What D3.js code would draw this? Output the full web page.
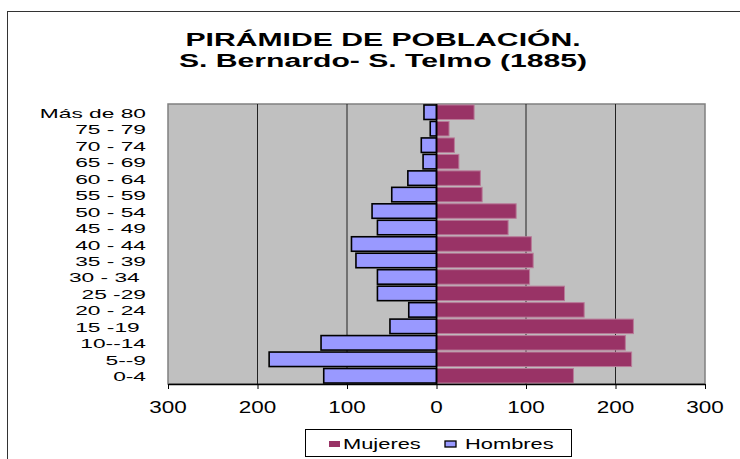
<!DOCTYPE html>
<meta charset="utf-8">
<title>Pirámide de población</title>
<style>

body {
  margin: 0;
  background: #fff;
}

text {
  font-family: "Liberation Sans", Arial, sans-serif;
  fill: #000;
  white-space: pre;
}
</style>
<body>
<script src="https://cdn.jsdelivr.net/npm/d3@7"></script>
<script>

var categories = ["0-4", "5--9", "10--14", "15 -19 ", "20 - 24", "25 -29", "30 - 34 ",
                  "35 - 39", "40 - 44", "45 - 49", "50 - 54", "55 - 59", "60 - 64",
                  "65 - 69", "70 - 74", "75 - 79", "Más de 80"];

var hombres = [126, 187, 129, 52, 31, 66, 66, 90, 95, 66, 72, 50, 32, 15, 17, 7, 14];
var mujeres = [153, 218, 211, 220, 165, 143, 104, 108, 106, 80, 89, 51, 49, 25, 20, 14, 42];

var ticks = [-300, -200, -100, 0, 100, 200, 300];
var title = ["PIRÁMIDE DE POBLACIÓN.", "S. Bernardo- S. Telmo (1885)"];
var series = ["Mujeres", "Hombres"];

var w = 740,
    h = 459,
    pLeft = 168,
    pRight = 705,
    pTop = 104,
    pBottom = 384;

var x = d3.scaleLinear().domain([-300, 300]).range([pLeft, pRight]);

var y = d3.scaleBand()
    .domain(categories.slice().reverse())
    .range([pTop, pBottom])
    .paddingInner(0.12)
    .paddingOuter(0.06);

var svg = d3.select("body").append("svg")
    .attr("width", w)
    .attr("height", h);

// outer frame
svg.append("rect")
    .attr("x", 7.5)
    .attr("y", 11.5)
    .attr("width", 800)
    .attr("height", 500)
    .style("fill", "none")
    .style("stroke", "#333");

// stretched text helper, the original is wide
function stretched(sel, sx) {
  return sel.attr("transform", function(d, i) {
    return "translate(" + this.getAttribute("data-x") + "," + this.getAttribute("data-y") + ") scale(" + sx + ",1)";
  });
}

svg.selectAll(".title")
    .data(title)
  .enter().append("text")
    .attr("class", "title")
    .attr("data-x", 383)
    .attr("data-y", function(d, i) { return 46 + i * 21; })
    .attr("text-anchor", "middle")
    .style("font-weight", "bold")
    .style("font-size", "18.5px")
    .text(function(d) { return d; })
    .call(stretched, 1.63);

// plot area
svg.append("rect")
    .attr("x", pLeft)
    .attr("y", pTop)
    .attr("width", pRight - pLeft)
    .attr("height", pBottom - pTop)
    .style("fill", "#c0c0c0")
    .style("stroke", "#808080")
    .style("stroke-width", 1.5);

svg.selectAll(".grid")
    .data(ticks.filter(function(d) { return d != 0 && Math.abs(d) != 300; }))
  .enter().append("line")
    .attr("class", "grid")
    .attr("x1", function(d) { return x(d); })
    .attr("x2", function(d) { return x(d); })
    .attr("y1", pTop)
    .attr("y2", pBottom)
    .style("stroke", "#222")
    .style("stroke-width", 1);

svg.selectAll(".muj")
    .data(mujeres)
  .enter().append("rect")
    .attr("class", "muj")
    .attr("x", x(0))
    .attr("y", function(d, i) { return y(categories[i]); })
    .attr("width", function(d) { return x(d) - x(0); })
    .attr("height", y.bandwidth())
    .style("fill", "#993366")
    .style("stroke", "#b87a98")
    .style("stroke-width", 1);

svg.selectAll(".hom")
    .data(hombres)
  .enter().append("rect")
    .attr("class", "hom")
    .attr("x", function(d) { return x(-d); })
    .attr("y", function(d, i) { return y(categories[i]); })
    .attr("width", function(d) { return x(0) - x(-d); })
    .attr("height", y.bandwidth())
    .style("fill", "#9999ff")
    .style("stroke", "#000")
    .style("stroke-width", 1.6);

// axis at zero
svg.append("line")
    .attr("x1", x(0))
    .attr("x2", x(0))
    .attr("y1", pTop)
    .attr("y2", pBottom)
    .style("stroke", "#000")
    .style("stroke-width", 1.5);

// x axis
var xAxis = svg.append("g")
    .attr("transform", "translate(0," + pBottom + ")")
    .call(d3.axisBottom(x).tickValues(ticks).tickSize(5).tickSizeOuter(0));

xAxis.select(".domain").style("stroke", "#000").style("stroke-width", 1.5);
xAxis.selectAll(".tick line").style("stroke", "#000");
xAxis.selectAll(".tick text").remove();

svg.selectAll(".xlab")
    .data(ticks)
  .enter().append("text")
    .attr("class", "xlab")
    .attr("data-x", function(d) { return x(d); })
    .attr("data-y", 413)
    .attr("text-anchor", "middle")
    .style("font-size", "16.3px")
    .text(function(d) { return Math.abs(d); })
    .call(stretched, 1.38);

svg.selectAll(".ylab")
    .data(categories)
  .enter().append("text")
    .attr("class", "ylab")
    .attr("data-x", 146)
    .attr("data-y", function(d) { return y(d) + y.bandwidth() / 2 + 5.5; })
    .attr("text-anchor", "end")
    .style("font-size", "13px")
    .text(function(d) { return d; })
    .call(stretched, 1.75);

// legend
var legend = svg.append("g");

legend.append("rect")
    .attr("x", 305.5)
    .attr("y", 429.5)
    .attr("width", 266)
    .attr("height", 27)
    .style("fill", "#fff")
    .style("stroke", "#000");

var legX = [329, 445],
    txtX = [343, 465];

legend.selectAll(".sw")
    .data(series)
  .enter().append("rect")
    .attr("class", "sw")
    .attr("x", function(d, i) { return legX[i]; })
    .attr("y", 441)
    .attr("width", 11)
    .attr("height", 6)
    .style("fill", function(d, i) { return i == 0 ? "#993366" : "#9999ff"; })
    .style("stroke", function(d, i) { return i == 0 ? "none" : "#000"; })
    .style("stroke-width", 1.3);

legend.selectAll(".lt")
    .data(series)
  .enter().append("text")
    .attr("class", "lt")
    .attr("data-x", function(d, i) { return txtX[i]; })
    .attr("data-y", 449)
    .style("font-size", "15.4px")
    .text(function(d) { return d; })
    .call(stretched, 1.42);

</script>
